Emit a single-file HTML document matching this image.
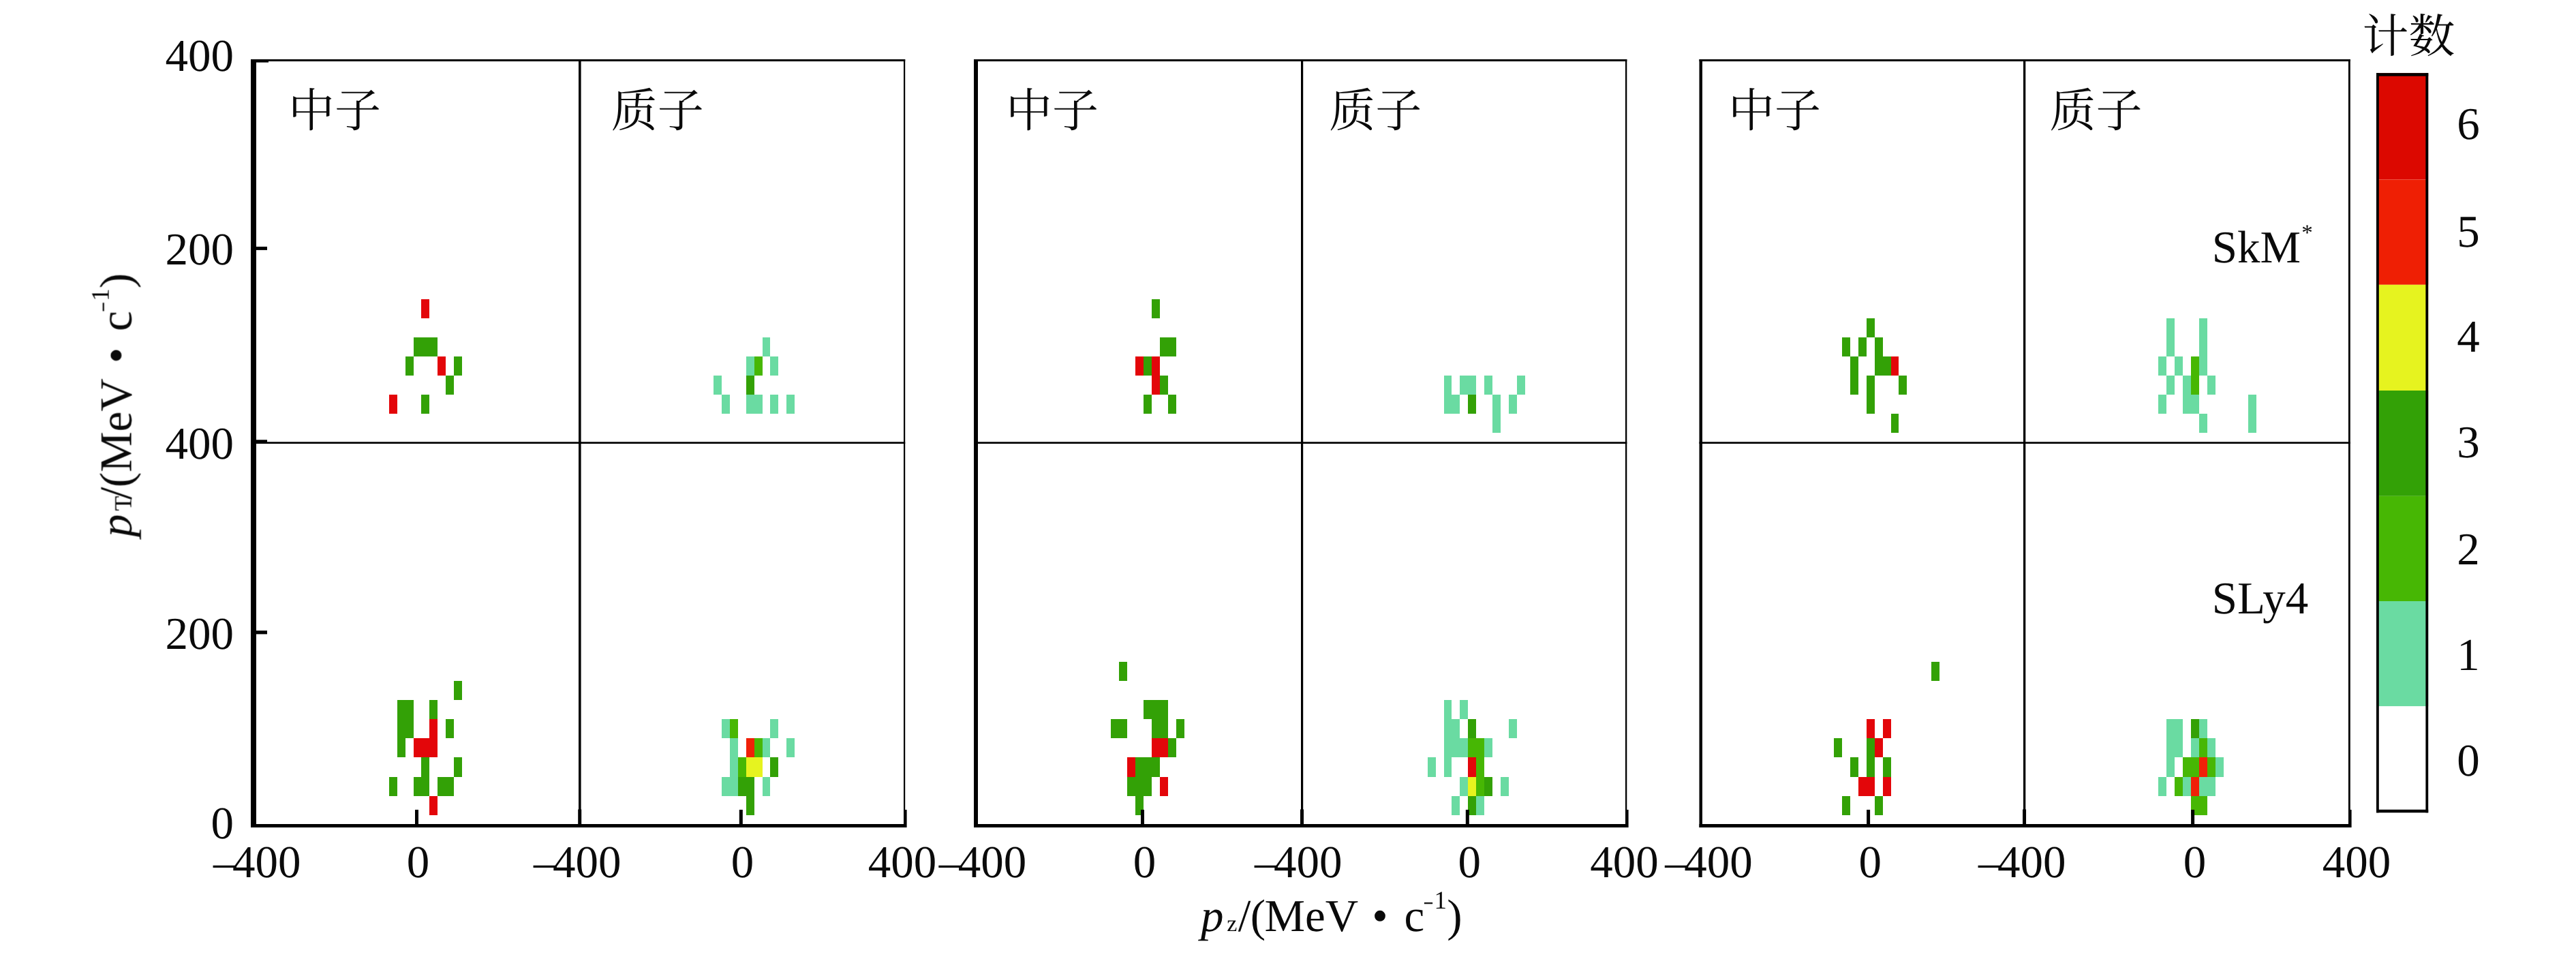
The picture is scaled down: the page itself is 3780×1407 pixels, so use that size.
<!DOCTYPE html>
<html lang="zh"><head><meta charset="utf-8"><title>pT–pz 分布</title>
<style>html,body{margin:0;padding:0;background:#fff}svg{display:block}text{font-family:"Liberation Serif", "Noto Serif CJK SC", serif;fill:#0a0a0a}</style></head><body>
<svg width="3780" height="1407" viewBox="0 0 3780 1407" text-rendering="geometricPrecision">
<rect x="0" y="0" width="3780" height="1407" fill="#ffffff"/>
<g shape-rendering="crispEdges">
<rect x="618.45" y="438.90" width="11.95" height="27.95" fill="#e3060a"/>
<rect x="606.50" y="494.80" width="11.95" height="27.95" fill="#33a106"/>
<rect x="618.45" y="494.80" width="11.95" height="27.95" fill="#33a106"/>
<rect x="630.40" y="494.80" width="11.95" height="27.95" fill="#33a106"/>
<rect x="594.55" y="522.75" width="11.95" height="27.95" fill="#33a106"/>
<rect x="642.35" y="522.75" width="11.95" height="27.95" fill="#e3060a"/>
<rect x="666.25" y="522.75" width="11.95" height="27.95" fill="#33a106"/>
<rect x="654.30" y="550.70" width="11.95" height="27.95" fill="#33a106"/>
<rect x="570.65" y="578.65" width="11.95" height="27.95" fill="#e3060a"/>
<rect x="618.45" y="578.65" width="11.95" height="27.95" fill="#33a106"/>
<rect x="1118.50" y="494.80" width="11.90" height="27.95" fill="#6adba2"/>
<rect x="1094.70" y="522.75" width="11.90" height="27.95" fill="#6adba2"/>
<rect x="1106.60" y="522.75" width="11.90" height="27.95" fill="#47b704"/>
<rect x="1130.40" y="522.75" width="11.90" height="27.95" fill="#6adba2"/>
<rect x="1047.10" y="550.70" width="11.90" height="27.95" fill="#6adba2"/>
<rect x="1094.70" y="550.70" width="11.90" height="27.95" fill="#33a106"/>
<rect x="1059.00" y="578.65" width="11.90" height="27.95" fill="#6adba2"/>
<rect x="1094.70" y="578.65" width="11.90" height="27.95" fill="#6adba2"/>
<rect x="1106.60" y="578.65" width="11.90" height="27.95" fill="#6adba2"/>
<rect x="1130.40" y="578.65" width="11.90" height="27.95" fill="#6adba2"/>
<rect x="1154.20" y="578.65" width="11.90" height="27.95" fill="#6adba2"/>
<rect x="1689.86" y="438.90" width="11.93" height="27.95" fill="#33a106"/>
<rect x="1701.79" y="494.80" width="11.93" height="27.95" fill="#33a106"/>
<rect x="1713.72" y="494.80" width="11.93" height="27.95" fill="#33a106"/>
<rect x="1666.00" y="522.75" width="11.93" height="27.95" fill="#e3060a"/>
<rect x="1677.93" y="522.75" width="11.93" height="27.95" fill="#33a106"/>
<rect x="1689.86" y="522.75" width="11.93" height="27.95" fill="#e3060a"/>
<rect x="1689.86" y="550.70" width="11.93" height="27.95" fill="#e3060a"/>
<rect x="1701.79" y="550.70" width="11.93" height="27.95" fill="#33a106"/>
<rect x="1677.93" y="578.65" width="11.93" height="27.95" fill="#33a106"/>
<rect x="1713.72" y="578.65" width="11.93" height="27.95" fill="#33a106"/>
<rect x="2118.50" y="550.70" width="11.90" height="27.95" fill="#6adba2"/>
<rect x="2142.30" y="550.70" width="11.90" height="27.95" fill="#6adba2"/>
<rect x="2154.20" y="550.70" width="11.90" height="27.95" fill="#6adba2"/>
<rect x="2178.00" y="550.70" width="11.90" height="27.95" fill="#6adba2"/>
<rect x="2225.60" y="550.70" width="11.90" height="27.95" fill="#6adba2"/>
<rect x="2118.50" y="578.65" width="11.90" height="27.95" fill="#6adba2"/>
<rect x="2130.40" y="578.65" width="11.90" height="27.95" fill="#6adba2"/>
<rect x="2154.20" y="578.65" width="11.90" height="27.95" fill="#33a106"/>
<rect x="2189.90" y="578.65" width="11.90" height="27.95" fill="#6adba2"/>
<rect x="2213.70" y="578.65" width="11.90" height="27.95" fill="#6adba2"/>
<rect x="2189.90" y="606.60" width="11.90" height="27.95" fill="#6adba2"/>
<rect x="2738.73" y="466.85" width="11.93" height="27.95" fill="#33a106"/>
<rect x="2702.94" y="494.80" width="11.93" height="27.95" fill="#33a106"/>
<rect x="2726.80" y="494.80" width="11.93" height="27.95" fill="#33a106"/>
<rect x="2750.66" y="494.80" width="11.93" height="27.95" fill="#33a106"/>
<rect x="2714.87" y="522.75" width="11.93" height="27.95" fill="#33a106"/>
<rect x="2750.66" y="522.75" width="11.93" height="27.95" fill="#33a106"/>
<rect x="2762.59" y="522.75" width="11.93" height="27.95" fill="#33a106"/>
<rect x="2774.52" y="522.75" width="11.93" height="27.95" fill="#e3060a"/>
<rect x="2714.87" y="550.70" width="11.93" height="27.95" fill="#33a106"/>
<rect x="2738.73" y="550.70" width="11.93" height="27.95" fill="#33a106"/>
<rect x="2786.45" y="550.70" width="11.93" height="27.95" fill="#33a106"/>
<rect x="2738.73" y="578.65" width="11.93" height="27.95" fill="#33a106"/>
<rect x="2774.52" y="606.60" width="11.93" height="27.95" fill="#33a106"/>
<rect x="3179.34" y="466.85" width="11.93" height="27.95" fill="#6adba2"/>
<rect x="3227.06" y="466.85" width="11.93" height="27.95" fill="#6adba2"/>
<rect x="3179.34" y="494.80" width="11.93" height="27.95" fill="#6adba2"/>
<rect x="3227.06" y="494.80" width="11.93" height="27.95" fill="#6adba2"/>
<rect x="3167.41" y="522.75" width="11.93" height="27.95" fill="#6adba2"/>
<rect x="3191.27" y="522.75" width="11.93" height="27.95" fill="#6adba2"/>
<rect x="3215.13" y="522.75" width="11.93" height="27.95" fill="#47b704"/>
<rect x="3227.06" y="522.75" width="11.93" height="27.95" fill="#6adba2"/>
<rect x="3179.34" y="550.70" width="11.93" height="27.95" fill="#6adba2"/>
<rect x="3203.20" y="550.70" width="11.93" height="27.95" fill="#6adba2"/>
<rect x="3215.13" y="550.70" width="11.93" height="27.95" fill="#47b704"/>
<rect x="3238.99" y="550.70" width="11.93" height="27.95" fill="#6adba2"/>
<rect x="3167.41" y="578.65" width="11.93" height="27.95" fill="#6adba2"/>
<rect x="3203.20" y="578.65" width="11.93" height="27.95" fill="#6adba2"/>
<rect x="3215.13" y="578.65" width="11.93" height="27.95" fill="#6adba2"/>
<rect x="3298.64" y="578.65" width="11.93" height="27.95" fill="#6adba2"/>
<rect x="3227.06" y="606.60" width="11.93" height="27.95" fill="#6adba2"/>
<rect x="3298.64" y="606.60" width="11.93" height="27.95" fill="#6adba2"/>
<rect x="630.40" y="1167.70" width="11.95" height="28.15" fill="#e3060a"/>
<rect x="570.65" y="1139.55" width="11.95" height="28.15" fill="#33a106"/>
<rect x="606.50" y="1139.55" width="11.95" height="28.15" fill="#33a106"/>
<rect x="618.45" y="1139.55" width="11.95" height="28.15" fill="#33a106"/>
<rect x="642.35" y="1139.55" width="11.95" height="28.15" fill="#33a106"/>
<rect x="654.30" y="1139.55" width="11.95" height="28.15" fill="#33a106"/>
<rect x="618.45" y="1111.40" width="11.95" height="28.15" fill="#33a106"/>
<rect x="666.25" y="1111.40" width="11.95" height="28.15" fill="#33a106"/>
<rect x="582.60" y="1083.25" width="11.95" height="28.15" fill="#33a106"/>
<rect x="606.50" y="1083.25" width="11.95" height="28.15" fill="#e3060a"/>
<rect x="618.45" y="1083.25" width="11.95" height="28.15" fill="#e3060a"/>
<rect x="630.40" y="1083.25" width="11.95" height="28.15" fill="#e3060a"/>
<rect x="582.60" y="1055.10" width="11.95" height="28.15" fill="#33a106"/>
<rect x="594.55" y="1055.10" width="11.95" height="28.15" fill="#33a106"/>
<rect x="630.40" y="1055.10" width="11.95" height="28.15" fill="#e3060a"/>
<rect x="654.30" y="1055.10" width="11.95" height="28.15" fill="#33a106"/>
<rect x="582.60" y="1026.95" width="11.95" height="28.15" fill="#33a106"/>
<rect x="594.55" y="1026.95" width="11.95" height="28.15" fill="#33a106"/>
<rect x="630.40" y="1026.95" width="11.95" height="28.15" fill="#33a106"/>
<rect x="666.25" y="998.80" width="11.95" height="28.15" fill="#33a106"/>
<rect x="1059.00" y="1055.10" width="11.90" height="28.15" fill="#6adba2"/>
<rect x="1070.90" y="1055.10" width="11.90" height="28.15" fill="#47b704"/>
<rect x="1130.40" y="1055.10" width="11.90" height="28.15" fill="#6adba2"/>
<rect x="1070.90" y="1083.25" width="11.90" height="28.15" fill="#6adba2"/>
<rect x="1094.70" y="1083.25" width="11.90" height="28.15" fill="#f02008"/>
<rect x="1106.60" y="1083.25" width="11.90" height="28.15" fill="#47b704"/>
<rect x="1118.50" y="1083.25" width="11.90" height="28.15" fill="#6adba2"/>
<rect x="1154.20" y="1083.25" width="11.90" height="28.15" fill="#6adba2"/>
<rect x="1070.90" y="1111.40" width="11.90" height="28.15" fill="#6adba2"/>
<rect x="1082.80" y="1111.40" width="11.90" height="28.15" fill="#47b704"/>
<rect x="1094.70" y="1111.40" width="11.90" height="28.15" fill="#e6f31f"/>
<rect x="1106.60" y="1111.40" width="11.90" height="28.15" fill="#e6f31f"/>
<rect x="1130.40" y="1111.40" width="11.90" height="28.15" fill="#33a106"/>
<rect x="1059.00" y="1139.55" width="11.90" height="28.15" fill="#6adba2"/>
<rect x="1070.90" y="1139.55" width="11.90" height="28.15" fill="#6adba2"/>
<rect x="1082.80" y="1139.55" width="11.90" height="28.15" fill="#33a106"/>
<rect x="1094.70" y="1139.55" width="11.90" height="28.15" fill="#33a106"/>
<rect x="1118.50" y="1139.55" width="11.90" height="28.15" fill="#6adba2"/>
<rect x="1094.70" y="1167.70" width="11.90" height="28.15" fill="#33a106"/>
<rect x="1642.14" y="970.65" width="11.93" height="28.15" fill="#33a106"/>
<rect x="1677.93" y="1026.95" width="11.93" height="28.15" fill="#33a106"/>
<rect x="1689.86" y="1026.95" width="11.93" height="28.15" fill="#33a106"/>
<rect x="1701.79" y="1026.95" width="11.93" height="28.15" fill="#33a106"/>
<rect x="1630.21" y="1055.10" width="11.93" height="28.15" fill="#33a106"/>
<rect x="1642.14" y="1055.10" width="11.93" height="28.15" fill="#33a106"/>
<rect x="1689.86" y="1055.10" width="11.93" height="28.15" fill="#33a106"/>
<rect x="1701.79" y="1055.10" width="11.93" height="28.15" fill="#33a106"/>
<rect x="1725.65" y="1055.10" width="11.93" height="28.15" fill="#33a106"/>
<rect x="1689.86" y="1083.25" width="11.93" height="28.15" fill="#e3060a"/>
<rect x="1701.79" y="1083.25" width="11.93" height="28.15" fill="#e3060a"/>
<rect x="1713.72" y="1083.25" width="11.93" height="28.15" fill="#33a106"/>
<rect x="1654.07" y="1111.40" width="11.93" height="28.15" fill="#e3060a"/>
<rect x="1666.00" y="1111.40" width="11.93" height="28.15" fill="#33a106"/>
<rect x="1677.93" y="1111.40" width="11.93" height="28.15" fill="#33a106"/>
<rect x="1689.86" y="1111.40" width="11.93" height="28.15" fill="#33a106"/>
<rect x="1654.07" y="1139.55" width="11.93" height="28.15" fill="#33a106"/>
<rect x="1666.00" y="1139.55" width="11.93" height="28.15" fill="#33a106"/>
<rect x="1677.93" y="1139.55" width="11.93" height="28.15" fill="#33a106"/>
<rect x="1701.79" y="1139.55" width="11.93" height="28.15" fill="#e3060a"/>
<rect x="1666.00" y="1167.70" width="11.93" height="28.15" fill="#33a106"/>
<rect x="2118.50" y="1026.95" width="11.90" height="28.15" fill="#6adba2"/>
<rect x="2142.30" y="1026.95" width="11.90" height="28.15" fill="#6adba2"/>
<rect x="2118.50" y="1055.10" width="11.90" height="28.15" fill="#6adba2"/>
<rect x="2130.40" y="1055.10" width="11.90" height="28.15" fill="#6adba2"/>
<rect x="2154.20" y="1055.10" width="11.90" height="28.15" fill="#33a106"/>
<rect x="2213.70" y="1055.10" width="11.90" height="28.15" fill="#6adba2"/>
<rect x="2118.50" y="1083.25" width="11.90" height="28.15" fill="#6adba2"/>
<rect x="2130.40" y="1083.25" width="11.90" height="28.15" fill="#6adba2"/>
<rect x="2142.30" y="1083.25" width="11.90" height="28.15" fill="#6adba2"/>
<rect x="2154.20" y="1083.25" width="11.90" height="28.15" fill="#47b704"/>
<rect x="2166.10" y="1083.25" width="11.90" height="28.15" fill="#47b704"/>
<rect x="2178.00" y="1083.25" width="11.90" height="28.15" fill="#6adba2"/>
<rect x="2094.70" y="1111.40" width="11.90" height="28.15" fill="#6adba2"/>
<rect x="2118.50" y="1111.40" width="11.90" height="28.15" fill="#6adba2"/>
<rect x="2154.20" y="1111.40" width="11.90" height="28.15" fill="#e3060a"/>
<rect x="2166.10" y="1111.40" width="11.90" height="28.15" fill="#47b704"/>
<rect x="2142.30" y="1139.55" width="11.90" height="28.15" fill="#6adba2"/>
<rect x="2154.20" y="1139.55" width="11.90" height="28.15" fill="#e6f31f"/>
<rect x="2166.10" y="1139.55" width="11.90" height="28.15" fill="#47b704"/>
<rect x="2178.00" y="1139.55" width="11.90" height="28.15" fill="#33a106"/>
<rect x="2201.80" y="1139.55" width="11.90" height="28.15" fill="#6adba2"/>
<rect x="2130.40" y="1167.70" width="11.90" height="28.15" fill="#6adba2"/>
<rect x="2154.20" y="1167.70" width="11.90" height="28.15" fill="#33a106"/>
<rect x="2166.10" y="1167.70" width="11.90" height="28.15" fill="#6adba2"/>
<rect x="2834.17" y="970.65" width="11.93" height="28.15" fill="#33a106"/>
<rect x="2738.73" y="1055.10" width="11.93" height="28.15" fill="#e3060a"/>
<rect x="2762.59" y="1055.10" width="11.93" height="28.15" fill="#e3060a"/>
<rect x="2691.01" y="1083.25" width="11.93" height="28.15" fill="#33a106"/>
<rect x="2738.73" y="1083.25" width="11.93" height="28.15" fill="#33a106"/>
<rect x="2750.66" y="1083.25" width="11.93" height="28.15" fill="#e3060a"/>
<rect x="2714.87" y="1111.40" width="11.93" height="28.15" fill="#33a106"/>
<rect x="2738.73" y="1111.40" width="11.93" height="28.15" fill="#33a106"/>
<rect x="2762.59" y="1111.40" width="11.93" height="28.15" fill="#33a106"/>
<rect x="2726.80" y="1139.55" width="11.93" height="28.15" fill="#e3060a"/>
<rect x="2738.73" y="1139.55" width="11.93" height="28.15" fill="#e3060a"/>
<rect x="2762.59" y="1139.55" width="11.93" height="28.15" fill="#e3060a"/>
<rect x="2702.94" y="1167.70" width="11.93" height="28.15" fill="#33a106"/>
<rect x="2750.66" y="1167.70" width="11.93" height="28.15" fill="#33a106"/>
<rect x="3179.34" y="1055.10" width="11.93" height="28.15" fill="#6adba2"/>
<rect x="3191.27" y="1055.10" width="11.93" height="28.15" fill="#6adba2"/>
<rect x="3215.13" y="1055.10" width="11.93" height="28.15" fill="#33a106"/>
<rect x="3227.06" y="1055.10" width="11.93" height="28.15" fill="#6adba2"/>
<rect x="3179.34" y="1083.25" width="11.93" height="28.15" fill="#6adba2"/>
<rect x="3191.27" y="1083.25" width="11.93" height="28.15" fill="#6adba2"/>
<rect x="3215.13" y="1083.25" width="11.93" height="28.15" fill="#6adba2"/>
<rect x="3227.06" y="1083.25" width="11.93" height="28.15" fill="#47b704"/>
<rect x="3238.99" y="1083.25" width="11.93" height="28.15" fill="#6adba2"/>
<rect x="3179.34" y="1111.40" width="11.93" height="28.15" fill="#6adba2"/>
<rect x="3203.20" y="1111.40" width="11.93" height="28.15" fill="#47b704"/>
<rect x="3215.13" y="1111.40" width="11.93" height="28.15" fill="#47b704"/>
<rect x="3227.06" y="1111.40" width="11.93" height="28.15" fill="#f02008"/>
<rect x="3238.99" y="1111.40" width="11.93" height="28.15" fill="#47b704"/>
<rect x="3250.92" y="1111.40" width="11.93" height="28.15" fill="#6adba2"/>
<rect x="3167.41" y="1139.55" width="11.93" height="28.15" fill="#6adba2"/>
<rect x="3191.27" y="1139.55" width="11.93" height="28.15" fill="#47b704"/>
<rect x="3203.20" y="1139.55" width="11.93" height="28.15" fill="#6adba2"/>
<rect x="3215.13" y="1139.55" width="11.93" height="28.15" fill="#f02008"/>
<rect x="3227.06" y="1139.55" width="11.93" height="28.15" fill="#6adba2"/>
<rect x="3238.99" y="1139.55" width="11.93" height="28.15" fill="#6adba2"/>
<rect x="3215.13" y="1167.70" width="11.93" height="28.15" fill="#47b704"/>
<rect x="3227.06" y="1167.70" width="11.93" height="28.15" fill="#47b704"/>
</g>
<g fill="#000">
<rect x="368.00" y="87.00" width="8.00" height="1127.00" fill="#000"/>
<rect x="368.00" y="87.00" width="960.20" height="3.00" fill="#000"/>
<rect x="368.00" y="648.30" width="960.20" height="2.70" fill="#000"/>
<rect x="368.00" y="1209.00" width="960.20" height="5.00" fill="#000"/>
<rect x="849.00" y="87.00" width="3.60" height="1127.00" fill="#000"/>
<rect x="1326.00" y="87.00" width="2.20" height="1127.00" fill="#000"/>
<rect x="848.20" y="1187.50" width="5.00" height="22.50" fill="#000"/>
<rect x="1326.00" y="1188.00" width="4.60" height="26.00" fill="#000"/>
<rect x="1429.00" y="87.00" width="6.00" height="1127.00" fill="#000"/>
<rect x="1429.00" y="87.00" width="958.30" height="3.00" fill="#000"/>
<rect x="1429.00" y="648.30" width="958.30" height="2.70" fill="#000"/>
<rect x="1429.00" y="1209.00" width="958.30" height="5.00" fill="#000"/>
<rect x="1909.00" y="87.00" width="3.20" height="1127.00" fill="#000"/>
<rect x="2385.00" y="87.00" width="2.30" height="1127.00" fill="#000"/>
<rect x="1908.00" y="1187.50" width="5.00" height="22.50" fill="#000"/>
<rect x="2385.00" y="1188.00" width="4.60" height="26.00" fill="#000"/>
<rect x="2493.50" y="87.00" width="4.50" height="1127.00" fill="#000"/>
<rect x="2493.50" y="87.00" width="955.30" height="3.00" fill="#000"/>
<rect x="2493.50" y="648.30" width="955.30" height="2.70" fill="#000"/>
<rect x="2493.50" y="1209.00" width="955.30" height="5.00" fill="#000"/>
<rect x="2969.00" y="87.00" width="3.30" height="1127.00" fill="#000"/>
<rect x="3446.00" y="87.00" width="2.80" height="1127.00" fill="#000"/>
<rect x="2968.05" y="1187.50" width="5.00" height="22.50" fill="#000"/>
<rect x="3446.00" y="1188.00" width="4.60" height="26.00" fill="#000"/>
<rect x="609.00" y="1188.00" width="5.00" height="22.00" fill="#000"/>
<rect x="1084.80" y="1188.00" width="5.00" height="22.00" fill="#000"/>
<rect x="1674.00" y="1188.00" width="5.00" height="22.00" fill="#000"/>
<rect x="2150.80" y="1188.00" width="5.00" height="22.00" fill="#000"/>
<rect x="2739.10" y="1188.00" width="5.00" height="22.00" fill="#000"/>
<rect x="3215.10" y="1188.00" width="5.00" height="22.00" fill="#000"/>
<rect x="376.00" y="87.00" width="18.00" height="4.60" fill="#000"/>
<rect x="376.00" y="361.90" width="16.00" height="5.00" fill="#000"/>
<rect x="376.00" y="645.30" width="16.00" height="5.70" fill="#000"/>
<rect x="376.00" y="925.20" width="16.00" height="5.20" fill="#000"/>
</g>
<rect x="3487.00" y="107.20" width="76.20" height="156.30" fill="#dc0800"/>
<rect x="3487.00" y="263.50" width="76.20" height="154.30" fill="#ef1f04"/>
<rect x="3487.00" y="417.80" width="76.20" height="155.20" fill="#e6f31f"/>
<rect x="3487.00" y="573.00" width="76.20" height="154.80" fill="#33a106"/>
<rect x="3487.00" y="727.80" width="76.20" height="154.20" fill="#47b704"/>
<rect x="3487.00" y="882.00" width="76.20" height="154.30" fill="#6adba2"/>
<rect x="3487.00" y="1036.30" width="76.20" height="155.70" fill="#ffffff"/>
<g fill="#000">
<rect x="3487.00" y="107.20" width="76.20" height="4.50" fill="#000"/>
<rect x="3487.00" y="1187.80" width="76.20" height="4.50" fill="#000"/>
<rect x="3487.00" y="107.20" width="3.80" height="1085.10" fill="#000"/>
<rect x="3559.40" y="107.20" width="3.80" height="1085.10" fill="#000"/>
</g>
<g opacity="0.999">
<text x="343.1" y="104.4" font-size="67" text-anchor="end">400</text>
<text x="343.1" y="388.3" font-size="67" text-anchor="end">200</text>
<text x="343.1" y="672.6" font-size="67" text-anchor="end">400</text>
<text x="343.1" y="952.3" font-size="67" text-anchor="end">200</text>
<text x="343.1" y="1230.4" font-size="67" text-anchor="end">0</text>
<text x="441.4" y="1287.3" font-size="67" text-anchor="end">–<tspan dx="-5.5">400</tspan></text>
<text x="911.6" y="1287.3" font-size="67" text-anchor="end">–<tspan dx="-5.5">400</tspan></text>
<text x="1506.2" y="1287.3" font-size="67" text-anchor="end">–<tspan dx="-5.5">400</tspan></text>
<text x="1969.5" y="1287.3" font-size="67" text-anchor="end">–<tspan dx="-5.5">400</tspan></text>
<text x="2571.8" y="1287.3" font-size="67" text-anchor="end">–<tspan dx="-5.5">400</tspan></text>
<text x="3031.6" y="1287.3" font-size="67" text-anchor="end">–<tspan dx="-5.5">400</tspan></text>
<text x="613.4" y="1287.3" font-size="67" text-anchor="middle">0</text>
<text x="1089.6" y="1287.3" font-size="67" text-anchor="middle">0</text>
<text x="1679.5" y="1287.3" font-size="67" text-anchor="middle">0</text>
<text x="2156.3" y="1287.3" font-size="67" text-anchor="middle">0</text>
<text x="2744.2" y="1287.3" font-size="67" text-anchor="middle">0</text>
<text x="3220.5" y="1287.3" font-size="67" text-anchor="middle">0</text>
<text x="1324" y="1287.3" font-size="67" text-anchor="middle">400</text>
<text x="2383.5" y="1287.3" font-size="67" text-anchor="middle">400</text>
<text x="3458" y="1287.3" font-size="67" text-anchor="middle">400</text>
<text x="3622" y="204" font-size="67" text-anchor="middle">6</text>
<text x="3622" y="362" font-size="67" text-anchor="middle">5</text>
<text x="3622" y="516" font-size="67" text-anchor="middle">4</text>
<text x="3622" y="671" font-size="67" text-anchor="middle">3</text>
<text x="3622" y="827.5" font-size="67" text-anchor="middle">2</text>
<text x="3622" y="982.7" font-size="67" text-anchor="middle">1</text>
<text x="3622" y="1138" font-size="67" text-anchor="middle">0</text>
<text x="3466.5" y="76.5" font-size="68" text-anchor="start">计数</text>
<text x="423" y="185.5" font-size="68" text-anchor="start">中子</text>
<text x="1476" y="185.5" font-size="68" text-anchor="start">中子</text>
<text x="2536" y="185.5" font-size="68" text-anchor="start">中子</text>
<text x="896.8" y="185.5" font-size="68" text-anchor="start">质子</text>
<text x="1950.2" y="185.5" font-size="68" text-anchor="start">质子</text>
<text x="3007.4" y="185.5" font-size="68" text-anchor="start">质子</text>
<text x="3245.7" y="385" font-size="67" text-anchor="start">SkM</text>
<text x="3377.2" y="351.5" font-size="33" text-anchor="start">*</text>
<text x="3245.7" y="900.2" font-size="67" text-anchor="start">SLy4</text>
<g transform="translate(1757.3,1366.4)"><text x="4.7" y="0" font-size="67" font-style="italic">p</text><text x="42.9" y="0" font-size="34">z</text><text x="59.4" y="0" font-size="67">/</text><text x="77.4" y="0" font-size="67">(</text><text x="98.2" y="0" font-size="67">MeV</text><text x="255.9" y="0" font-size="67">•</text><text x="303.2" y="0" font-size="67">c</text><text x="331.9" y="-33.5" font-size="24" stroke="#0a0a0a" stroke-width="1">−</text><text x="347.2" y="-33" font-size="37">1</text><text x="366.0" y="0" font-size="67">)</text></g>
<g transform="translate(192.6,792.6) rotate(-90)"><text x="4.7" y="0" font-size="67" font-style="italic">p</text><text x="42.9" y="0" font-size="36">T</text><text x="59.4" y="0" font-size="67">/</text><text x="77.4" y="0" font-size="67">(</text><text x="99.7" y="0" font-size="67">MeV</text><text x="259.5" y="0" font-size="67">•</text><text x="306.8" y="0" font-size="67">c</text><text x="335.5" y="-33.5" font-size="24" stroke="#0a0a0a" stroke-width="1">−</text><text x="350.8" y="-33" font-size="37">1</text><text x="369.6" y="0" font-size="67">)</text></g>
</g>
</svg></body></html>
